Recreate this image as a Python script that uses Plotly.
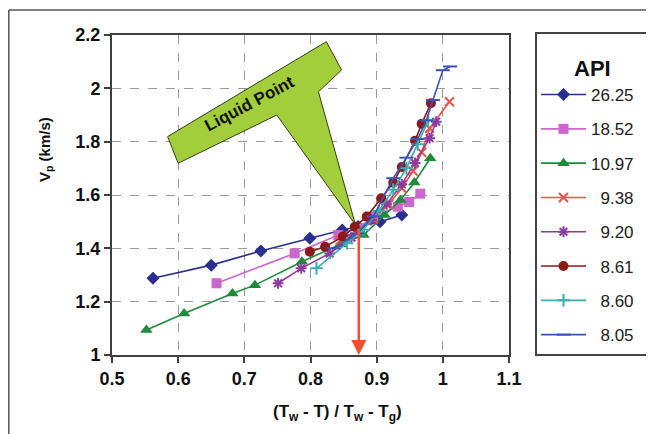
import plotly.graph_objects as go

# ---------------- data ----------------
api_labels = ["26.25", "18.52", "10.97", "\u20079.38", "\u20079.20", "\u20078.61", "\u20078.60", "\u20078.05"]

x_26_25 = [0.562, 0.650, 0.725, 0.799, 0.848, 0.872, 0.905, 0.938]
y_26_25 = [1.288, 1.337, 1.390, 1.438, 1.469, 1.482, 1.500, 1.525]

x_18_52 = [0.658, 0.776, 0.842, 0.872, 0.895, 0.932, 0.949, 0.966]
y_18_52 = [1.269, 1.381, 1.450, 1.475, 1.519, 1.556, 1.574, 1.605]

x_10_97 = [0.552, 0.609, 0.682, 0.716, 0.787, 0.845, 0.880, 0.912, 0.936, 0.957, 0.981]
y_10_97 = [1.094, 1.156, 1.231, 1.262, 1.350, 1.415, 1.450, 1.525, 1.581, 1.647, 1.738]

x_9_38 = [0.845, 0.870, 0.895, 0.918, 0.938, 0.955, 0.968, 0.980, 1.010]
y_9_38 = [1.430, 1.465, 1.510, 1.565, 1.625, 1.690, 1.760, 1.850, 1.950]

x_9_20 = [0.751, 0.786, 0.829, 0.862, 0.892, 0.915, 0.938, 0.958, 0.980, 0.990]
y_9_20 = [1.269, 1.325, 1.381, 1.440, 1.506, 1.565, 1.640, 1.720, 1.813, 1.875]

x_8_61 = [0.799, 0.822, 0.849, 0.867, 0.885, 0.907, 0.925, 0.938, 0.958, 0.968, 0.982]
y_8_61 = [1.387, 1.406, 1.444, 1.481, 1.519, 1.588, 1.646, 1.705, 1.803, 1.867, 1.944]

x_8_60 = [0.809, 0.855, 0.880, 0.903, 0.925, 0.945, 0.962, 0.978]
y_8_60 = [1.325, 1.419, 1.470, 1.540, 1.620, 1.700, 1.790, 1.880]

x_8_05 = [0.835, 0.870, 0.895, 0.925, 0.945, 0.962, 0.975, 0.985, 1.000, 1.011]
y_8_05 = [1.400, 1.455, 1.520, 1.663, 1.740, 1.810, 1.880, 1.956, 2.068, 2.082]

x_ticks = [0.5, 0.6, 0.7, 0.8, 0.9, 1.0, 1.1]
y_ticks = [1.0, 1.2, 1.4, 1.6, 1.8, 2.0, 2.2]

liquid_point = (0.873, 1.475)
# callout outline (data coords): left, top, right, tail base right, tip, tail base left, bottom
callout_x = [0.584, 0.824, 0.847, 0.812, 0.868, 0.749, 0.600]
callout_y = [1.819, 2.175, 2.069, 1.987, 1.488, 1.900, 1.719]

series = [
    (x_26_25, y_26_25, "#2B2F8F", "diamond", 10),
    (x_18_52, y_18_52, "#CC66CC", "square", 10),
    (x_10_97, y_10_97, "#1F8A3C", "triangle-up", 11),
    (x_9_38, y_9_38, "#F0504A", "x-thin-open", 9),
    (x_9_20, y_9_20, "#8E3A9E", "asterisk-open", 9),
    (x_8_61, y_8_61, "#8B1A1A", "circle", 10),
    (x_8_60, y_8_60, "#3AAFB0", "cross-thin-open", 9),
    (x_8_05, y_8_05, "#3F52B5", "line-ew-open", 10),
]

FONT = "Arial, Liberation Sans, sans-serif"

# the page body adds an 8px margin; the figure is sized to fill the rest
W, H = 646, 426
L, R, T, B = 104, 145, 27, 79
PW, PH = W - L - R, H - T - B


def px(fx):
    return (fx - L) / PW


def py(fy):
    return (H - B - fy) / PH


fig = go.Figure()

for (xs, ys, col, sym, sz), name in zip(series, api_labels):
    fig.add_trace(go.Scatter(
        x=xs, y=ys, mode="lines+markers", name=name,
        legendgroup=name,
        line=dict(color=col, width=1.6),
        marker=dict(symbol=sym, size=sz, color=col,
                    line=dict(color=col, width=2 if "open" in sym else 0)),
    ))

# callout shape
path = "M " + " L ".join(f"{x},{y}" for x, y in zip(callout_x, callout_y)) + " Z"
fig.add_shape(type="path", path=path, xref="x", yref="y",
              fillcolor="#A3CE3C", line=dict(color="#33401A", width=1), layer="between")

fig.add_annotation(x=0.7085, y=1.944, xref="x", yref="y", text="<b>Liquid Point</b>",
                   showarrow=False, textangle=-28,
                   font=dict(family=FONT, size=17, color="#111111"))

# red arrow
fig.add_annotation(x=liquid_point[0], y=1.0, xref="x", yref="y",
                   ax=liquid_point[0], ay=liquid_point[1], axref="x", ayref="y",
                   text="", showarrow=True, arrowhead=2, arrowsize=1.2, arrowwidth=2.5,
                   arrowcolor="#F0502A", standoff=0)

# outer frame (left and top)
fig.add_shape(type="line", xref="paper", yref="paper", x0=px(0.8), x1=px(0.8), y0=py(H), y1=py(2),
              line=dict(color="#555555", width=1.5))
fig.add_shape(type="line", xref="paper", yref="paper", x0=px(0.8), x1=px(W), y0=py(2), y1=py(2),
              line=dict(color="#555555", width=1.5))

# legend box and title
fig.add_shape(type="rect", xref="paper", yref="paper", x0=px(528), x1=px(640), y0=py(347), y1=py(25),
              line=dict(color="#444444", width=2), fillcolor="rgba(0,0,0,0)")
fig.add_annotation(xref="paper", yref="paper", x=px(584), y=py(60), xanchor="center", yanchor="middle",
                   text="<b>API</b>", showarrow=False,
                   font=dict(family=FONT, size=22, color="#111111"))

# axis titles
fig.add_annotation(xref="paper", yref="paper", x=px(37), y=py(142), xanchor="center", yanchor="middle",
                   text="<b>V<sub>p</sub> (km/s)</b>", textangle=-90, showarrow=False,
                   font=dict(family=FONT, size=15, color="#111111"))
fig.add_annotation(xref="paper", yref="paper", x=px(329), y=py(405), xanchor="center", yanchor="middle",
                   text="<b>(T<sub>w</sub> - T) / T<sub>w</sub> - T<sub>g</sub>)</b>", showarrow=False,
                   font=dict(family=FONT, size=17, color="#111111"))

axis_common = dict(
    showline=True, linecolor="#404040", linewidth=2, mirror=True,
    ticks="outside", ticklen=6, tickcolor="#404040", tickwidth=1.5,
    showgrid=True, gridcolor="#9A9A9A", gridwidth=1.3, griddash="dash",
    zeroline=False,
    tickfont=dict(family=FONT, size=18, color="#111111"),
)

fig.update_xaxes(range=[0.5, 1.1], tickvals=x_ticks,
                 ticktext=[f"<b>{v:g}</b>" for v in x_ticks], **axis_common)
fig.update_yaxes(range=[1.0, 2.2], tickvals=y_ticks,
                 ticktext=[f"<b>{v:g}</b>" for v in y_ticks], **axis_common)

fig.update_layout(
    width=W, height=H,
    margin=dict(l=L, r=R, t=T, b=B),
    paper_bgcolor="white", plot_bgcolor="white",
    font=dict(family=FONT, size=17, color="#222222"),
    showlegend=True,
    legend=dict(
        x=px(528), xanchor="left", y=py(69), yanchor="top",
        borderwidth=0, bgcolor="rgba(0,0,0,0)",
        font=dict(family=FONT, size=17, color="#222222"),
        traceorder="grouped", tracegroupgap=9.2, itemwidth=45,
        maxheight=H,
    ),
)

fig.write_html("out.html")
